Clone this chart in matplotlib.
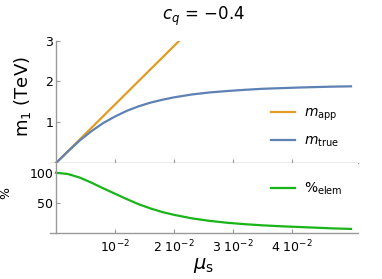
import matplotlib
matplotlib.use("Agg")
import matplotlib.pyplot as plt

# Values
mu_app = [0.0, 0.0209]
m_app = [0.0, 3.0]

mu = [0.0, 0.002, 0.004, 0.006, 0.008, 0.010, 0.012, 0.014, 0.016, 0.018, 0.020,
      0.023, 0.026, 0.029, 0.032, 0.035, 0.038, 0.041, 0.044, 0.047, 0.050]
m_true = [0.0, 0.28, 0.55, 0.78, 0.98, 1.14, 1.28, 1.39, 1.48, 1.55, 1.61,
          1.68, 1.73, 1.765, 1.795, 1.82, 1.835, 1.85, 1.862, 1.873, 1.88]
pct_elem = [100, 97.9, 92, 83.5, 74, 65, 56, 47.5, 40.5, 34.5, 29.8,
            24, 19.8, 16.6, 14.2, 12.3, 10.8, 9.6, 8.4, 7.2, 6.3]

x_ticks = [0.01, 0.02, 0.03, 0.04]
x_tick_labels = ["$10^{-2}$", "2 $10^{-2}$", "3 $10^{-2}$", "4 $10^{-2}$"]

c_orange = "#E19C24"
c_blue = "#5E81B5"
c_green = "#19B419"
c_axis = "#999999"

fig = plt.figure(figsize=(3.82, 2.79), dpi=100)
ax_top = fig.add_axes([0.1312, 0.4158, 0.8047, 0.4384])
ax_bot = fig.add_axes([0.1312, 0.1659, 0.8047, 0.2498])

for ax in (ax_top, ax_bot):
    ax.set_xlim(-0.001, 0.0511)
    ax.spines["top"].set_visible(False)
    ax.spines["right"].set_visible(False)
    ax.spines["left"].set_position(("data", 0))
    for s in ("left", "bottom"):
        ax.spines[s].set_color(c_axis)
        ax.spines[s].set_linewidth(1.0)
    ax.set_xticks(x_ticks)
    ax.tick_params(direction="in", length=3, width=0.8, color=c_axis,
                   labelsize=9, pad=2)

# top panel
ax_top.plot(mu_app, m_app, color=c_orange, lw=1.6, label=r"$m_{\mathrm{app}}$")
ax_top.plot(mu, m_true, color=c_blue, lw=1.6, label=r"$m_{\mathrm{true}}$")
ax_top.set_ylim(0, 3)
ax_top.set_yticks([1, 2, 3])
ax_top.set_xticklabels([])
ax_top.legend(loc="upper left", bbox_to_anchor=(271 / 382, 1 - 106 / 279),
              bbox_transform=fig.transFigure, frameon=False, fontsize=10,
              borderpad=0, borderaxespad=0, handlelength=1.7,
              handletextpad=0.7, labelspacing=0.75)

# bottom panel
ax_bot.plot(mu, pct_elem, color=c_green, lw=1.6, label=r"%$_{\mathrm{elem}}$")
ax_bot.set_ylim(0, 116.2)
ax_bot.set_yticks([50, 100])
ax_bot.set_xticklabels(x_tick_labels)
ax_bot.tick_params(axis="x", pad=4)
ax_bot.legend(loc="upper left", bbox_to_anchor=(271 / 382, 1 - 181 / 279),
              bbox_transform=fig.transFigure, frameon=False, fontsize=10,
              borderpad=0, borderaxespad=0, handlelength=1.7,
              handletextpad=0.7)

# labels and title
fig.text(0.058, 0.655, "m$_1$ (TeV)", rotation=90, ha="center", va="center",
         fontsize=13)
fig.text(0.014, 0.31, "%", rotation=90, ha="center", va="center", fontsize=9)
fig.text(0.532, 0.94, "$c_q$ = \u22120.4", ha="center", va="center", fontsize=12)
fig.text(0.532, 0.05, r"$\mu_{\mathrm{s}}$", ha="center", va="center", fontsize=14)

fig.savefig("out.png", dpi=100)
